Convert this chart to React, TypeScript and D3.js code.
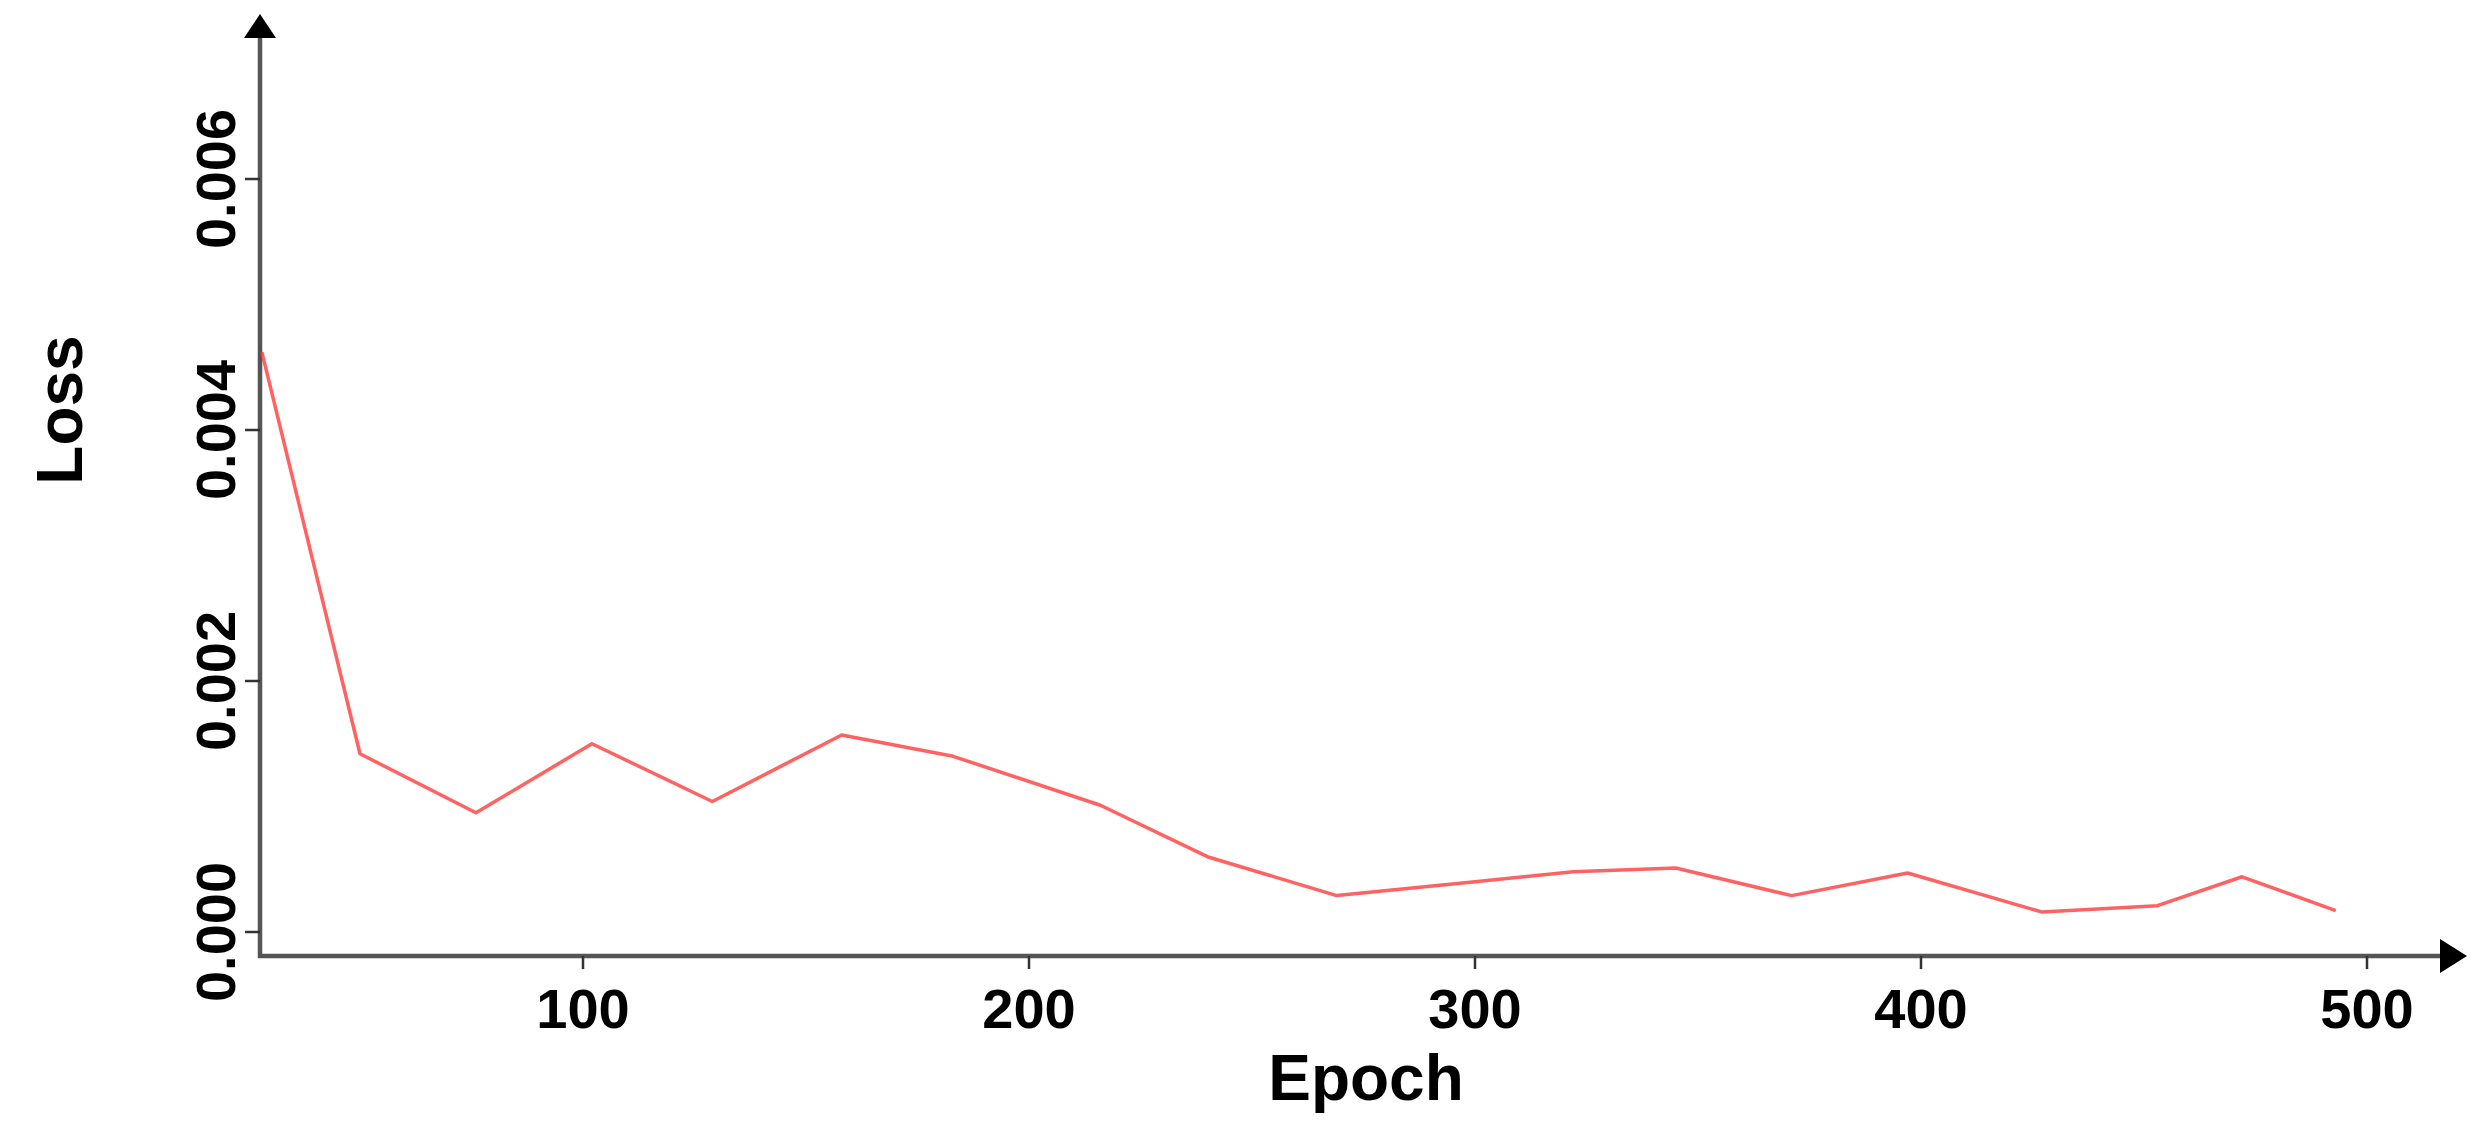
import React from "react";
import * as d3 from "d3";

const epochs = [28, 50, 76, 102, 129, 158, 183, 216, 240, 269, 300, 322, 345, 371, 397, 427, 453, 472, 493];
const loss = [0.00462, 0.00142, 0.00095, 0.0015, 0.00104, 0.00157, 0.0014, 0.00101, 0.0006, 0.00029, 0.0004, 0.00048, 0.00051, 0.00029, 0.00047, 0.00016, 0.00021, 0.00044, 0.00017];
const xTicks = [100, 200, 300, 400, 500];
const yTicks = [0, 0.002, 0.004, 0.006];

const W = 2484;
const H = 1130;
const FONT = "'Liberation Sans', Arial, sans-serif";

export default function App() {
  const x = d3.scaleLinear().domain([100, 500]).range([583, 2367]);
  const y = d3.scaleLinear().domain([0, 0.006]).range([932, 179]);
  const axisX = 260;
  const axisY = 956;
  const data = epochs.map((e, i) => ({ e, v: loss[i] }));
  const line = d3
    .line<{ e: number; v: number }>()
    .x((d) => x(d.e))
    .y((d) => y(d.v));
  const fmt = d3.format(".3f");

  return (
    <svg
      width={W}
      height={H}
      style={{ position: "absolute", left: 0, top: 0, background: "#fff" }}
    >
      <rect x={0} y={0} width={W} height={H} fill="#fff" />
      {/* axes */}
      <line x1={axisX} y1={axisY + 2} x2={axisX} y2={36} stroke="#555" strokeWidth={4.5} />
      <path d={`M${axisX - 16},38 L${axisX + 16},38 L${axisX},14 Z`} fill="#000" />
      <line x1={axisX - 2} y1={axisY} x2={2442} y2={axisY} stroke="#555" strokeWidth={4.5} />
      <path d={`M2440,${axisY - 17} L2440,${axisY + 17} L2467,${axisY} Z`} fill="#000" />

      {/* y ticks */}
      {yTicks.map((t) => (
        <g key={"y" + t}>
          <line x1={axisX - 15} y1={y(t)} x2={axisX} y2={y(t)} stroke="#333" strokeWidth={2.5} />
          <text
            transform={`translate(235,${y(t)}) rotate(-90)`}
            textAnchor="middle"
            fontFamily={FONT}
            fontWeight="bold"
            fontSize={56}
            fill="#000"
          >
            {fmt(t)}
          </text>
        </g>
      ))}

      {/* x ticks */}
      {xTicks.map((t) => (
        <g key={"x" + t}>
          <line x1={x(t)} y1={axisY} x2={x(t)} y2={axisY + 13} stroke="#333" strokeWidth={2.5} />
          <text
            x={x(t)}
            y={1028}
            textAnchor="middle"
            fontFamily={FONT}
            fontWeight="bold"
            fontSize={56}
            fill="#000"
          >
            {t}
          </text>
        </g>
      ))}

      {/* axis titles */}
      <text
        x={1366}
        y={1100}
        textAnchor="middle"
        fontFamily={FONT}
        fontWeight="bold"
        fontSize={64}
        fill="#000"
      >
        Epoch
      </text>
      <text
        transform="translate(82,410) rotate(-90)"
        textAnchor="middle"
        fontFamily={FONT}
        fontWeight="bold"
        fontSize={64}
        fill="#000"
      >
        Loss
      </text>

      {/* loss line */}
      <path
        d={line(data) || ""}
        fill="none"
        stroke="#ff3b3b"
        strokeOpacity={0.8}
        strokeWidth={3.5}
        strokeLinejoin="round"
      />
    </svg>
  );
}
